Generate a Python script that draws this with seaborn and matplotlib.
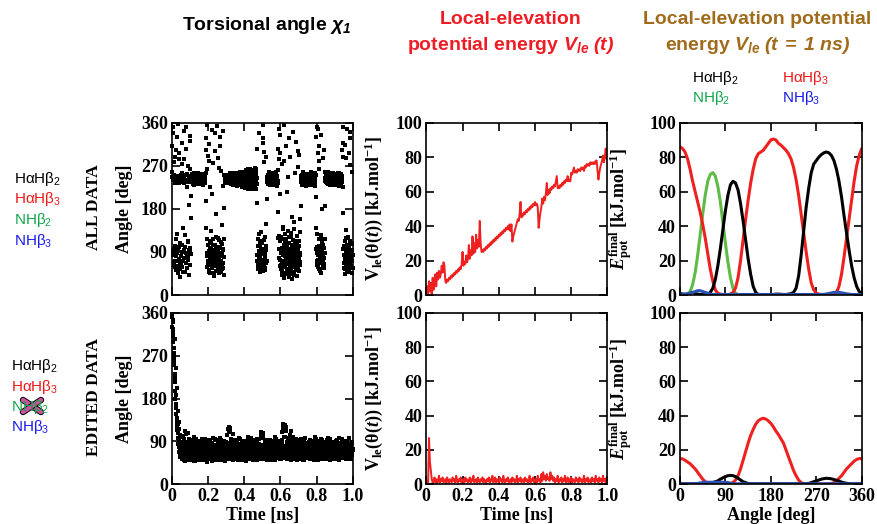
import numpy as np
import matplotlib
matplotlib.use("Agg")
import matplotlib.pyplot as plt
import seaborn as sns
from matplotlib import patheffects as pe
from matplotlib.lines import Line2D
from matplotlib.ticker import FixedLocator, FixedFormatter

# ---------------------------------------------------------------- data
# chi1 torsional angle (deg); even samples at 0, 2, 4 ... ps, odd samples at 1, 3, 5 ... ps
chi_all_even = [
    312, 247, 84, 351, 240, 63, 96, 288, 238, 71, 52, 244, 118, 331, 236, 88, 45, 249, 75, 296, 101, 243, 67, 38, 251,
    81, 239, 59, 273, 104, 246, 72, 342, 93, 235, 48, 126, 241, 66, 305, 87, 252, 57, 110, 237, 78, 189, 243, 41, 98,
    264, 322, 85, 161, 246, 241, 238, 250, 233, 245, 243, 229, 248, 240, 236, 252, 244, 231, 247, 239, 242, 255, 235, 246, 241,
    237, 249, 244, 232, 251, 240, 246, 236, 243, 248, 230, 245, 239, 253, 242, 234, 247, 241, 302, 196, 254, 118, 355, 87, 71,
    64, 92, 281, 53, 108, 77, 45, 99, 133, 68, 84, 211, 57, 116, 73, 39, 95, 62, 338, 86, 104, 51, 79, 170, 69,
    93, 58, 120, 74, 265, 47, 101, 83, 62, 312, 111, 70, 55, 146, 88, 66, 97, 228, 42, 79, 250, 241, 236, 247, 239,
    244, 238, 249, 242, 235, 246, 240, 251, 237, 243, 248, 233, 245, 241, 239, 252, 236, 247, 243, 230, 246, 240, 254, 238, 244,
    232, 249, 241, 237, 255, 244, 228, 247, 240, 252, 236, 245, 231, 250, 243, 238, 257, 234, 246, 241, 226, 253, 239, 248, 233,
    258, 237, 224, 249, 244, 262, 231, 240, 253, 222, 246, 235, 260, 242, 228, 251, 238, 264, 233, 247, 221, 256, 240, 229, 259,
    243, 226, 261, 236, 250, 224, 247, 239, 263, 231, 192, 84, 63, 102, 55, 127, 76, 92, 48, 113, 69, 86, 58, 97, 74,
    108, 61, 356, 318, 277, 88, 52, 121, 79, 95, 66, 148, 201, 246, 238, 251, 233, 244, 240, 256, 229, 247, 237, 250, 242,
    236, 253, 241, 230, 248, 244, 237, 255, 232, 246, 240, 249, 235, 243, 258, 227, 246, 239, 173, 306, 124, 285, 97, 334, 112,
    73, 54, 96, 41, 118, 67, 88, 142, 59, 104, 281, 36, 81, 127, 62, 99, 47, 215, 86, 71, 133, 52, 94, 327, 65,
    109, 43, 78, 121, 57, 90, 34, 163, 74, 115, 61, 98, 47, 138, 82, 68, 255, 106, 53, 91, 39, 124, 77, 300, 60,
    95, 112, 51, 84, 69, 131, 186, 239, 246, 233, 250, 241, 237, 254, 230, 247, 243, 236, 252, 240, 228, 248, 244, 235, 251,
    239, 246, 232, 253, 242, 237, 249, 229, 245, 240, 256, 234, 247, 241, 236, 251, 243, 231, 248, 238, 254, 244, 227, 205, 140,
    88, 62, 101, 346, 297, 73, 118, 54, 263, 92, 80, 125, 46, 97, 67, 180, 110, 58, 85, 73, 99, 64, 116, 258, 244,
    247, 238, 251, 235, 243, 240, 256, 231, 246, 242, 237, 253, 229, 248, 241, 236, 250, 244, 233, 247, 239, 255, 242, 234, 249,
    240, 245, 232, 252, 238, 247, 243, 230, 254, 241, 236, 249, 244, 227, 251, 239, 246, 235, 253, 242, 248, 237, 288, 171, 318,
    96, 57, 83, 112, 44, 71, 135, 63, 90, 53, 104, 75, 49, 121, 86, 66, 98, 272, 341, 58, 109, 79, 45, 93, 70, 84,
]
chi_all_odd = [
    256, 91, 339, 242, 68, 277, 250, 103, 59, 235, 302, 82, 246, 61, 127, 241, 357, 94, 233, 70, 284, 248, 55, 109, 240,
    63, 254, 318, 90, 237, 49, 140, 244, 77, 284, 101, 250, 66, 351, 239, 84, 57, 226, 113, 269, 73, 248, 95, 333, 62,
    89, 245, 206, 240, 252, 236, 247, 242, 231, 249, 238, 254, 243, 235, 246, 240, 251, 233, 244, 239, 248, 236, 253, 241, 245,
    242, 234, 250, 245, 238, 253, 241, 236, 248, 243, 232, 251, 246, 239, 244, 237, 252, 240, 141, 329, 82, 263, 58, 290, 104,
    85, 315, 70, 49, 96, 226, 63, 112, 81, 344, 58, 92, 71, 275, 105, 66, 47, 88, 301, 76, 121, 60, 97, 353, 83,
    68, 287, 90, 53, 114, 75, 331, 62, 99, 81, 48, 259, 86, 107, 65, 342, 93, 57, 181, 118, 238, 246, 243, 235, 250,
    241, 247, 236, 245, 250, 238, 243, 233, 248, 240, 254, 237, 246, 242, 232, 250, 244, 239, 248, 235, 243, 251, 241, 237, 247,
    246, 236, 252, 243, 230, 249, 239, 254, 235, 245, 229, 248, 241, 256, 233, 244, 240, 227, 251, 238, 247, 235, 258, 242, 250,
    230, 252, 241, 261, 235, 226, 255, 244, 232, 264, 238, 250, 223, 247, 257, 236, 243, 225, 253, 242, 262, 230, 248, 237, 227,
    255, 234, 248, 265, 229, 241, 257, 222, 251, 244, 305, 72, 118, 57, 90, 66, 338, 104, 81, 53, 96, 131, 62, 85, 71,
    51, 93, 328, 299, 62, 114, 75, 87, 57, 103, 288, 71, 240, 236, 249, 243, 231, 252, 238, 246, 241, 233, 254, 245, 237,
    249, 240, 235, 252, 243, 231, 247, 239, 254, 236, 245, 241, 229, 251, 238, 248, 242, 233, 262, 119, 347, 78, 211, 61, 296,
    88, 121, 63, 273, 99, 51, 84, 137, 70, 355, 58, 109, 93, 44, 312, 78, 116, 55, 101, 69, 246, 87, 38, 122, 74,
    57, 96, 289, 68, 130, 83, 49, 104, 341, 62, 91, 76, 152, 42, 113, 87, 59, 319, 98, 71, 107, 64, 268, 85, 52,
    77, 293, 103, 63, 88, 159, 248, 236, 242, 251, 230, 245, 239, 256, 234, 248, 241, 237, 253, 244, 232, 249, 238, 246, 242,
    233, 250, 244, 238, 247, 252, 236, 243, 249, 231, 246, 238, 253, 244, 229, 250, 240, 246, 235, 255, 241, 237, 251, 330, 96,
    71, 127, 352, 84, 59, 312, 103, 279, 66, 95, 51, 335, 83, 119, 70, 91, 287, 62, 104, 77, 56, 302, 88, 186, 238,
    241, 252, 236, 246, 249, 233, 244, 240, 253, 238, 245, 232, 251, 242, 236, 247, 254, 239, 243, 230, 249, 241, 237, 252, 244,
    236, 251, 243, 239, 247, 234, 250, 245, 238, 246, 232, 255, 240, 248, 236, 243, 231, 250, 241, 246, 239, 303, 225, 96, 350,
    67, 102, 313, 78, 55, 91, 286, 119, 60, 84, 347, 72, 100, 52, 296, 88, 69, 113, 327, 61, 94, 80, 258, 106, 57,
]

chi_edited_even = [
    352, 331, 344, 298, 317, 276, 259, 305, 232, 214, 187, 243, 168, 139, 201, 122, 154, 108, 131, 96, 115, 72, 104, 61, 88,
    66, 79, 54, 88, 102, 61, 73, 57, 95, 68, 81, 49, 112, 70, 63, 86, 58, 76, 108, 52, 71, 90, 64, 83, 59,
    74, 56, 87, 67, 51, 79, 93, 62, 70, 55, 84, 66, 99, 58, 77, 48, 72, 88, 61, 69, 53, 82, 75, 60, 91,
    63, 78, 52, 85, 68, 57, 74, 96, 59, 71, 50, 83, 65, 76, 54, 89, 62, 73, 58, 81, 67, 47, 78, 64, 86,
    56, 70, 92, 61, 75, 53, 84, 66, 58, 79, 49, 72, 87, 60, 68, 55, 81, 74, 63, 94, 57, 69, 51, 77, 65,
    82, 59, 71, 54, 88, 66, 76, 50, 63, 97, 58, 73, 67, 85, 52, 70, 61, 79, 56, 90, 64, 75, 48, 68, 83,
    60, 74, 57, 86, 115, 65, 79, 53, 121, 70, 62, 109, 77, 55, 89, 68, 73, 58, 84, 63, 51, 76, 66, 93, 59,
    72, 54, 81, 65, 69, 87, 56, 74, 61, 50, 78, 67, 95, 58, 71, 63, 83, 55, 76, 60, 88, 69, 52, 74, 64,
    57, 80, 66, 73, 49, 86, 62, 77, 55, 91, 68, 59, 75, 64, 82, 53, 70, 61, 97, 58, 72, 66, 84, 51, 78,
    63, 74, 56, 89, 67, 60, 81, 52, 71, 65, 94, 58, 76, 69, 54, 85, 62, 73, 57, 79, 66, 102, 59, 70, 83,
    55, 108, 68, 61, 77, 53, 86, 64, 72, 58, 90, 66, 50, 79, 62, 74, 56, 83, 69, 60, 93, 57, 75, 65, 51,
    80, 63, 71, 58, 87, 67, 54, 76, 61, 84, 69, 52, 73, 96, 59, 66, 78, 55, 70, 62, 85, 57, 74, 64, 81,
    59, 72, 53, 88, 65, 77, 61, 118, 70, 56, 99, 63, 124, 75, 58, 111, 67, 82, 54, 73, 62, 91, 57, 79, 66,
    71, 104, 60, 85, 68, 52, 77, 63, 94, 58, 74, 66, 87, 55, 70, 61, 82, 57, 76, 64, 50, 89, 67, 72, 59,
    83, 62, 75, 56, 69, 92, 60, 78, 54, 71, 65, 86, 58, 73, 63, 80, 51, 68, 97, 61, 74, 57, 84, 66, 70,
    55, 79, 64, 72, 88, 59, 67, 53, 81, 70, 62, 76, 56, 90, 68, 60, 74, 52, 85, 65, 71, 58, 78, 63, 95,
    61, 73, 57, 84, 66, 50, 77, 69, 59, 87, 64, 72, 55, 80, 62, 93, 58, 75, 67, 53, 82, 70, 60, 76, 65,
    86, 57, 71, 63, 78, 54, 98, 66, 73, 59, 81, 68, 52, 75, 62, 89, 57, 70, 64, 83, 56, 72, 61, 79, 67,
    58, 77, 65, 91, 60, 72, 54, 84, 68, 62, 76, 51, 87, 66, 73, 59, 80, 63, 70, 55, 94, 61, 78, 67, 57,
    74, 63, 85, 56, 71, 66, 79, 53, 88, 62, 75, 58, 69, 83, 60, 97, 57, 72, 65, 81, 54, 76, 61, 86, 68, 73,
]
chi_edited_odd = [
    358, 340, 325, 309, 286, 268, 251, 224, 196, 178, 161, 147, 129, 113, 137, 98, 84, 126, 67, 92, 78, 57, 100, 70, 81,
    72, 60, 85, 55, 99, 67, 77, 51, 90, 64, 74, 58, 82, 106, 62, 71, 53, 88, 66, 79, 57, 94, 69, 61, 84,
    58, 81, 70, 63, 92, 54, 76, 67, 85, 60, 73, 49, 89, 65, 78, 56, 96, 63, 71, 58, 83, 68, 52, 77, 66,
    87, 61, 74, 56, 80, 69, 53, 91, 64, 72, 59, 84, 67, 50, 78, 62, 95, 57, 70, 65, 86, 54, 75, 68, 60,
    73, 64, 55, 82, 68, 90, 59, 71, 63, 86, 52, 77, 66, 98, 58, 74, 61, 83, 69, 54, 80, 63, 92, 57, 71,
    62, 88, 55, 76, 67, 60, 84, 71, 52, 79, 65, 93, 58, 74, 63, 81, 55, 70, 87, 62, 77, 53, 85, 66, 72,
    89, 58, 103, 66, 75, 55, 112, 71, 62, 84, 118, 57, 72, 96, 64, 79, 53, 105, 68, 60, 87, 73, 56, 81, 65,
    59, 83, 68, 91, 62, 75, 54, 80, 66, 98, 57, 73, 64, 85, 51, 77, 69, 61, 90, 56, 74, 66, 82, 59, 71,
    86, 63, 75, 57, 90, 69, 54, 81, 64, 72, 59, 99, 67, 56, 79, 62, 74, 85, 53, 70, 65, 88, 58, 76, 62,
    71, 55, 92, 66, 78, 59, 85, 63, 74, 51, 88, 68, 61, 80, 57, 96, 65, 72, 54, 83, 69, 110, 62, 77, 58,
    98, 64, 104, 57, 81, 70, 62, 89, 55, 76, 67, 84, 59, 93, 71, 52, 80, 65, 73, 58, 87, 63, 69, 82, 56,
    74, 61, 90, 67, 53, 79, 65, 86, 58, 72, 99, 62, 77, 55, 84, 68, 60, 75, 91, 57, 70, 64, 82, 53, 76,
    66, 84, 58, 110, 71, 93, 61, 127, 68, 81, 55, 115, 74, 100, 62, 121, 59, 88, 70, 63, 97, 56, 78, 67, 85,
    62, 93, 73, 55, 112, 66, 81, 58, 76, 100, 63, 70, 54, 86, 68, 77, 60, 95, 65, 72, 57, 83, 69, 61, 79,
    67, 88, 58, 73, 63, 81, 55, 95, 69, 76, 60, 84, 66, 52, 79, 71, 90, 57, 74, 64, 86, 59, 70, 63, 80,
    72, 60, 86, 67, 55, 78, 64, 92, 58, 74, 69, 83, 61, 71, 54, 88, 66, 79, 57, 73, 63, 99, 68, 56, 81,
    70, 58, 90, 64, 76, 55, 85, 69, 62, 79, 53, 74, 67, 96, 60, 72, 57, 83, 65, 71, 88, 59, 77, 63, 68,
    60, 79, 66, 92, 57, 74, 63, 85, 69, 55, 81, 71, 60, 94, 65, 77, 58, 86, 67, 62, 73, 54, 89, 64, 75,
    66, 84, 57, 72, 63, 93, 60, 76, 69, 55, 81, 67, 98, 59, 74, 64, 86, 57, 71, 79, 62, 90, 66, 58, 77,
    83, 57, 70, 64, 91, 60, 75, 68, 53, 86, 63, 78, 59, 97, 66, 72, 56, 84, 69, 62, 80, 55, 88, 65, 74,
]

# local-elevation potential energy (kJ/mol), one sample every 5 ps
vle_all = [
    0, 5, 1, 8, 2, 7, 0, 10, 3, 9,
    12, 5, 13, 9, 14, 10, 12, 17, 13, 19,
    17, 8, 7, 9, 8, 10, 9, 11, 10, 12,
    11, 13, 12, 14, 13, 15, 14, 16, 15, 18,
    25, 17, 19, 18, 23, 19, 21, 29, 21, 26,
    23, 34, 24, 30, 25, 35, 27, 32, 28, 43,
    30, 25, 26, 25, 27, 26, 28, 27, 29, 28,
    30, 29, 31, 30, 32, 31, 33, 32, 34, 33,
    35, 34, 36, 35, 37, 36, 38, 37, 39, 38,
    40, 38, 41, 37, 41, 31, 34, 36, 38, 40,
    42, 44, 43, 47, 54, 45, 47, 46, 48, 47,
    49, 48, 50, 49, 51, 50, 52, 51, 53, 52,
    54, 52, 53, 51, 39, 44, 48, 51, 56, 53,
    57, 55, 59, 65, 58, 61, 59, 62, 61, 63,
    62, 64, 63, 66, 69, 62, 63, 62, 64, 63,
    65, 64, 66, 65, 67, 66, 69, 66, 67, 66,
    71, 70, 72, 74, 71, 72, 71, 73, 72, 73,
    72, 74, 73, 74, 72, 75, 74, 76, 75, 76,
    75, 77, 76, 77, 76, 77, 76, 78, 78, 72,
    67, 71, 74, 76, 78, 81, 77, 80, 85, 79,
    83,
]

vle_edited = [
    0, 2, 1, 27, 13, 8, 3, 1,
    2, 4, 1, 3, 0.5, 2, 5, 1, 3, 2, 4, 1, 2, 3, 0.5, 4, 2, 1, 3, 2,
    1, 4, 2, 3, 1, 5, 2, 1, 3, 2, 4, 0.5, 2, 3, 1, 4, 2, 3, 1, 2,
    4, 1, 3, 2, 5, 1, 2, 3, 1, 4, 2, 1, 3, 2, 4, 1, 3, 2, 0.5, 3,
    2, 4, 1, 3, 2, 5, 1, 2, 4, 1, 3, 2, 1, 4, 2, 3, 1, 5, 2, 1,
    3, 2, 4, 1, 2, 3, 1, 4, 2, 3, 1, 2, 5, 1, 3, 2, 4, 1, 2, 3,
    1, 4, 2, 3, 1, 2, 5, 1, 3, 2, 4, 1, 2, 3, 1, 5, 2, 3, 1, 6,
    2, 7, 3, 5, 2, 6, 3, 4, 2, 7, 3, 5, 2, 4, 1, 3, 2, 5, 1, 3,
    2, 4, 1, 3, 2, 5, 1, 2, 4, 1, 3, 2, 4, 1, 3, 2, 1, 4, 2, 3,
    1, 4, 2, 3, 1, 2, 5, 1, 3, 2, 4, 1, 2, 3, 1, 4, 2, 3, 1, 5,
    2, 3, 1, 4, 2, 3, 1, 5, 2, 3, 1, 4, 2,
]

# final LE potential (kJ/mol) vs angle, every 5 deg from 0 to 360
angle_grid = np.arange(0, 361, 5)

e_all_HaHb2 = [
    1, 0.5, 0.3, 0.5, 1, 1.5, 1, 0.5, 0.3, 0.2,
    0.3, 0.5, 1.5, 4, 9, 17, 27, 38, 49, 58,
    64, 66, 65, 61, 53, 43, 32, 21, 12, 5,
    1.5, 0.3, 0.2, 0.2, 0.2, 0.2, 0.2, 0.3, 0.5, 0.5,
    0.4, 0.3, 0.3, 0.5, 0.8, 1.5, 4, 11, 23, 37,
    51, 62, 71, 76, 78, 80, 81.5, 82.5, 83, 82.5,
    81, 78, 73, 66, 57, 46, 36, 26, 17, 10,
    5, 2, 1,
]
e_all_HaHb3 = [
    86, 85, 83, 79, 73, 66, 60, 54, 48, 41,
    33, 24, 15, 8, 3, 1, 0.5, 0.3, 0.2, 0.3,
    0.5, 1.5, 4, 10, 20, 32, 44, 55, 65, 73,
    79, 82, 83, 84, 86, 88, 90, 90.5, 90, 88,
    87, 85.5, 84, 82, 79, 74, 67, 58, 47, 36,
    25, 15, 7, 3, 1, 0.5, 0.3, 0.2, 0.2, 0.3,
    0.4, 0.6, 1.5, 5, 12, 22, 33, 44, 55, 66,
    75, 81, 85,
]
e_all_NHb2 = [
    0, 0, 0, 0.5, 2, 6, 13, 23, 35, 47,
    58, 66, 70, 71, 69, 63, 54, 42, 30, 19,
    10, 4, 1, 0.3, 0, 0, 0, 0, 0, 0,
    0, 0, 0, 0, 0, 0, 0, 0, 0, 0,
    0, 0, 0, 0, 0, 0, 0, 0, 0, 0,
    0, 0, 0, 0, 0, 0, 0, 0, 0, 0,
    0, 0, 0, 0, 0, 0, 0, 0, 0, 0,
    0, 0, 0,
]
e_all_NHb3 = [
    0.5, 0.5, 0.6, 0.8, 1, 1.5, 2, 2.5, 2.5, 2,
    1.5, 1, 0.5, 0.3, 0.3, 0.3, 0.3, 0.3, 0.3, 0.3,
    0.3, 0.3, 0.3, 0.3, 0.3, 0.3, 0.3, 0.3, 0.3, 0.3,
    0.3, 0.3, 0.3, 0.3, 0.3, 0.3, 0.3, 0.3, 0.3, 0.3,
    0.3, 0.3, 0.3, 0.3, 0.3, 0.3, 0.3, 0.3, 0.3, 0.3,
    0.3, 0.3, 0.3, 0.3, 0.3, 0.3, 0.3, 0.4, 0.6, 0.9,
    1.2, 1.5, 1.6, 1.5, 1.3, 1, 0.7, 0.5, 0.3, 0.3,
    0.3, 0.3, 0.3,
]

e_edit_HaHb2 = [
    0.3, 0.3, 0.3, 0.3, 0.3, 0.3, 0.3, 0.3, 0.3, 0.3,
    0.3, 0.3, 0.5, 1, 1.5, 2, 3, 3.8, 4.5, 5,
    5.2, 5, 4.5, 3.5, 2.5, 1.5, 1, 0.5, 0.3, 0.3,
    0.3, 0.3, 0.3, 0.3, 0.3, 0.3, 0.3, 0.3, 0.3, 0.3,
    0.3, 0.3, 0.3, 0.3, 0.3, 0.3, 0.3, 0.3, 0.3, 0.3,
    0.3, 0.5, 1, 1.5, 2, 2.5, 3, 3.3, 3.5, 3.4,
    3.2, 2.8, 2.3, 1.8, 1.3, 0.9, 0.6, 0.4, 0.3, 0.3,
    0.3, 0.3, 0.3,
]
e_edit_HaHb3 = [
    15, 14.8, 14, 13, 12, 10.5, 9, 7, 5, 3,
    1.5, 0.5, 0.2, 0.2, 0.2, 0.2, 0.2, 0.2, 0.2, 0.2,
    0.5, 1, 2.5, 5, 9, 14, 19, 24, 28.5, 32,
    35, 37, 38, 38.5, 38, 37, 35.5, 33.5, 31, 29,
    26.5, 24, 20, 16, 12, 8, 5, 2.5, 1, 0.3,
    0.2, 0.2, 0.2, 0.2, 0.2, 0.2, 0.2, 0.2, 0.2, 0.2,
    0.5, 1, 2, 3.5, 5, 7, 9, 10.5, 12, 13.5,
    14.5, 15, 15,
]
e_edit_NHb3 = [
    0.3, 0.3, 0.3, 0.3, 0.3, 0.3, 0.3, 0.5, 0.8, 1,
    1.2, 1.2, 1.2, 1.2, 1.2, 1.2, 1.2, 1.2, 1.2, 1,
    0.7, 0.4, 0.3, 0.3, 0.3, 0.3, 0.3, 0.3, 0.3, 0.3,
    0.3, 0.3, 0.3, 0.3, 0.3, 0.3, 0.3, 0.3, 0.3, 0.3,
    0.3, 0.3, 0.3, 0.3, 0.3, 0.3, 0.3, 0.3, 0.3, 0.3,
    0.3, 0.3, 0.3, 0.3, 0.3, 0.3, 0.3, 0.3, 0.3, 0.3,
    0.3, 0.3, 0.3, 0.3, 0.3, 0.3, 0.3, 0.3, 0.3, 0.3,
    0.3, 0.3, 0.3,
]

time_ticks = [0, 0.2, 0.4, 0.6, 0.8, 1.0]
time_labels = ["0", "0.2", "0.4", "0.6", "0.8", "1.0"]
angle_ticks = [0, 90, 180, 270, 360]
energy_ticks = [0, 20, 40, 60, 80, 100]

# ---------------------------------------------------------------- style
sns.set_theme(style="ticks")
plt.rcParams.update({
    "font.family": ["Liberation Serif", "DejaVu Serif"],
    "font.weight": "bold",
    "text.color": "black",
    "axes.labelcolor": "black",
    "axes.labelweight": "bold",
    "axes.linewidth": 1.2,
    "axes.edgecolor": "black",
    "xtick.color": "black",
    "ytick.color": "black",
    "xtick.direction": "in",
    "ytick.direction": "in",
    "xtick.major.size": 5.5,
    "ytick.major.size": 5.5,
    "xtick.major.width": 1.2,
    "ytick.major.width": 1.2,
    "xtick.labelsize": 13,
    "ytick.labelsize": 13,
    "xtick.major.pad": 3,
    "ytick.major.pad": 3,
    "axes.labelsize": 13,
    "mathtext.fontset": "custom",
    "mathtext.rm": "Liberation Serif:weight=bold",
    "mathtext.it": "Liberation Serif:style=italic:weight=bold",
    "mathtext.bf": "Liberation Sans:style=italic:weight=bold",
    "mathtext.sf": "Liberation Sans:weight=normal",
})

C_BLACK = "#000000"
C_RED = "#EE2020"
C_GREEN = "#5DBB46"
C_BLUE = "#2D50B4"
TXT_GREEN = "#12A64C"
TXT_BLUE = "#1A1AEE"
TXT_RED = "#F01818"
TITLE_RED = "#EE1C24"
TITLE_BROWN = "#A06C1C"

W, H = 877, 524
fig = plt.figure(figsize=(W / 100, H / 100), dpi=100)


def px_axes(x0, y0, x1, y1):
    return fig.add_axes([x0 / W, 1 - y1 / H, (x1 - x0) / W, (y1 - y0) / H])


cols = [(172, 352.7), (426.3, 607.5), (680, 861.7)]
rows = [(122.7, 295), (312.7, 484.3)]
axes = [[px_axes(c[0], r[0], c[1], r[1]) for c in cols] for r in rows]

# sample times (ns)
t_even = np.linspace(0, 1, len(chi_all_even))
t_odd = np.linspace(0.001, 0.999, len(chi_all_odd))
t_chi = np.concatenate([t_even, t_odd])
chi_all = np.concatenate([chi_all_even, chi_all_odd])
chi_edited = np.concatenate([chi_edited_even, chi_edited_odd])
t_vle = np.linspace(0, 1, len(vle_all))
t_vle_e = np.linspace(0, 1, len(vle_edited))


def finish(ax, xticks, yticks, xlim, ylim, show_x):
    ax.set_xlim(*xlim)
    ax.set_ylim(*ylim)
    ax.xaxis.set_major_locator(FixedLocator(xticks))
    ax.yaxis.set_major_locator(FixedLocator(yticks))
    ax.tick_params(top=True, right=True, which="major")
    ax.tick_params(axis="x", labelbottom=show_x)
    ax.set_xlabel("")
    ax.set_ylabel("")
    for s in ax.spines.values():
        s.set_visible(True)
        s.set_linewidth(1.2)


# column 1: chi1 scatter
for r, vals in enumerate([chi_all, chi_edited]):
    ax = axes[r][0]
    sns.scatterplot(x=t_chi, y=vals, ax=ax, color="black", marker="s", s=6,
                    linewidth=0, clip_on=False, legend=False)
    finish(ax, time_ticks, angle_ticks, (0, 1), (0, 360), r == 1)
    ax.set_ylabel("Angle [deg]")
    ax.yaxis.set_label_coords(-0.216, 0.5)

# column 2: LE potential vs time
for r, (tt, vals) in enumerate([(t_vle, vle_all), (t_vle_e, vle_edited)]):
    ax = axes[r][1]
    sns.lineplot(x=tt, y=vals, ax=ax, color=C_RED, lw=1.4, estimator=None,
                 legend=False)
    finish(ax, time_ticks, energy_ticks, (0, 1), (0, 100), r == 1)
    ax.set_ylabel(r"V$_{\mathrm{le}}$(θ($\mathit{t}$)) [kJ.mol$^{\mathrm{-1}}$]")
    ax.yaxis.set_label_coords(-0.228, 0.5)

# column 3: final LE potential vs angle
series_all = [(e_all_NHb2, C_GREEN), (e_all_HaHb3, C_RED),
              (e_all_HaHb2, C_BLACK), (e_all_NHb3, C_BLUE)]
series_edit = [(e_edit_HaHb3, C_RED), (e_edit_HaHb2, C_BLACK),
               (e_edit_NHb3, C_BLUE)]
for r, series in enumerate([series_all, series_edit]):
    ax = axes[r][2]
    for vals, col in series:
        sns.lineplot(x=angle_grid, y=vals, ax=ax, color=col, lw=2.2,
                     estimator=None, legend=False)
    finish(ax, angle_ticks, energy_ticks, (0, 360), (0, 100), r == 1)
    ax.set_ylabel(r"$\mathit{E}_{\mathrm{pot}}^{\mathrm{final}}$ [kJ.mol$^{\mathrm{-1}}$]")
    ax.yaxis.set_label_coords(-0.245, 0.5)

for ax in (axes[1][0], axes[1][1]):
    ax.xaxis.set_major_formatter(FixedFormatter(time_labels))
    ax.set_xlabel("Time [ns]", labelpad=1)
axes[1][2].set_xlabel("Angle [deg]", labelpad=1)

# ---------------------------------------------------------------- titles
sans = ["Liberation Sans", "DejaVu Sans"]
fig.text(267 / W, 1 - 26 / H, r"Torsional angle $\mathbf{\chi_1}$",
         family=sans, weight="bold", size=14, ha="center", va="center",
         color="black")
fig.text(511 / W, 1 - 20 / H, "Local-elevation", family=sans, weight="bold",
         size=14, ha="center", va="center", color=TITLE_RED)
fig.text(511 / W, 1 - 46 / H, r"potential energy $\mathbf{V_{le}\ (t)}$",
         family=sans, weight="bold", size=14, ha="center", va="center",
         color=TITLE_RED)
fig.text(757 / W, 1 - 20 / H, "Local-elevation potential", family=sans,
         weight="bold", size=14, ha="center", va="center", color=TITLE_BROWN)
fig.text(757 / W, 1 - 46 / H, r"energy $\mathbf{V_{le}\ (t\;=\;1\ ns)}$",
         family=sans, weight="bold", size=14, ha="center", va="center",
         color=TITLE_BROWN)

# row labels
fig.text(94 / W, 1 - 207 / H, "ALL DATA", rotation=90, family="Liberation Serif",
         weight="bold", size=12.5, ha="center", va="center", color="black")
fig.text(94 / W, 1 - 397 / H, "EDITED DATA", rotation=90,
         family="Liberation Serif", weight="bold", size=12.5, ha="center",
         va="center", color="black")

# coupling legends
labels = [r"HαHβ$_{\mathsf{2}}$", r"HαHβ$_{\mathsf{3}}$",
          r"NHβ$_{\mathsf{2}}$", r"NHβ$_{\mathsf{3}}$"]
label_colors = ["black", TXT_RED, TXT_GREEN, TXT_BLUE]


def legend_text(x, y, s, c):
    fig.text(x / W, 1 - y / H, s, family=sans, weight="normal", size=11,
             color=c, ha="left", va="center")


for (y0, x0) in [(179, 14), (366, 11)]:
    for i, (s, c) in enumerate(zip(labels, label_colors)):
        legend_text(x0, y0 + i * 20.5, s, c)

legend_text(692, 78, labels[0], label_colors[0])
legend_text(782, 78, labels[1], label_colors[1])
legend_text(692, 98, labels[2], label_colors[2])
legend_text(782, 98, labels[3], label_colors[3])

# cross over the removed NHβ2 coupling
for (xa, ya, xb, yb) in [(23, 400, 41, 412), (23, 412, 41, 400)]:
    fig.add_artist(Line2D([xa / W, xb / W], [1 - ya / H, 1 - yb / H],
                          transform=fig.transFigure, color="#D24C9F", lw=3.2,
                          solid_capstyle="round",
                          path_effects=[pe.Stroke(linewidth=4.6, foreground="black"),
                                        pe.Normal()]))

fig.savefig("out.png", dpi=100)
